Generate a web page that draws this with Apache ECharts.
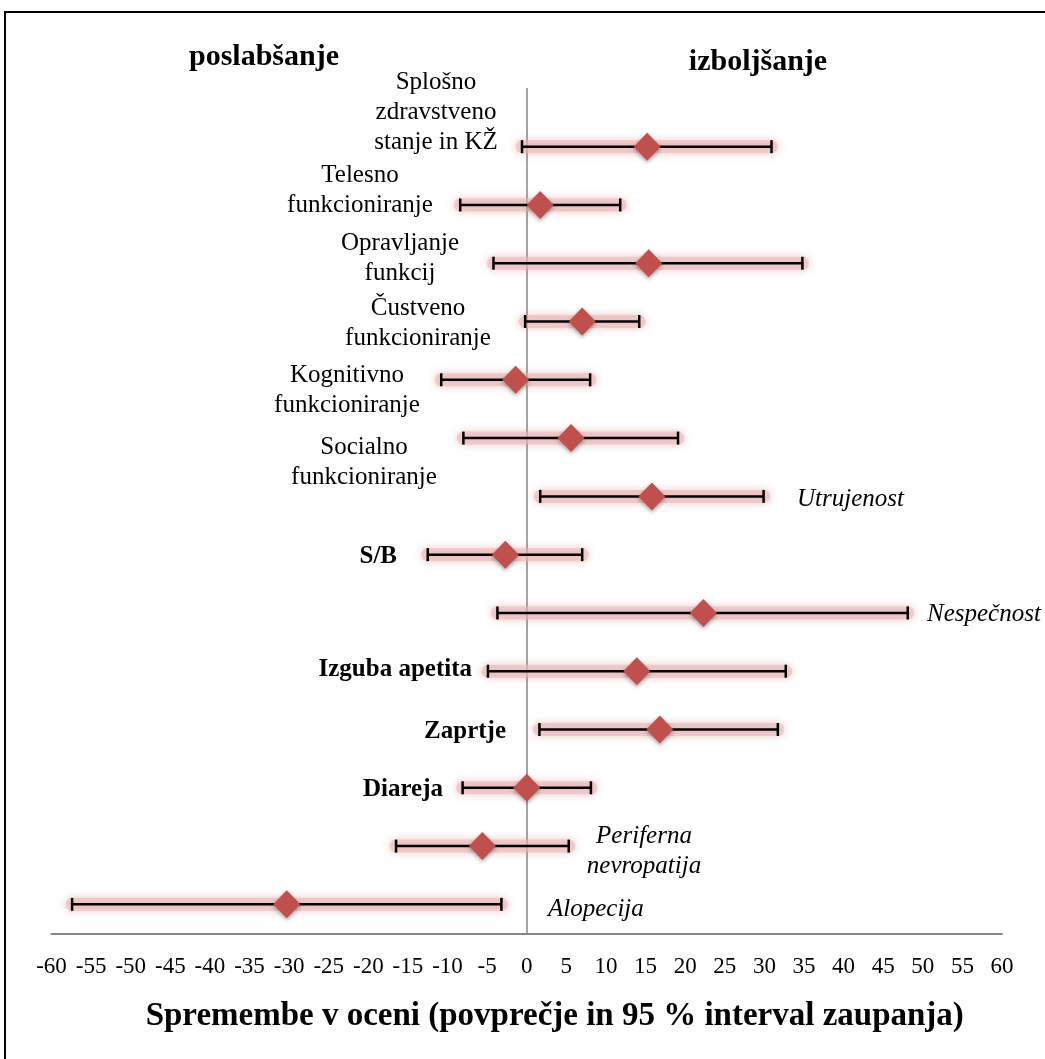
<!DOCTYPE html>
<html>
<head>
<meta charset="utf-8">
<script src="https://cdn.jsdelivr.net/npm/echarts@6/dist/echarts.min.js"></script>
<style>
html,body{margin:0;padding:0;background:#fff;}
#chart{width:1045px;height:1059px;}
</style>
</head>
<body>
<div id="chart"></div>
<script>
// ---- data ----
const categories = [
  'Splošno\nzdravstveno\nstanje in KŽ',
  'Telesno\nfunkcioniranje',
  'Opravljanje\nfunkcij',
  'Čustveno\nfunkcioniranje',
  'Kognitivno\nfunkcioniranje',
  'Socialno\nfunkcioniranje',
  'Utrujenost',
  'S/B',
  'Nespečnost',
  'Izguba apetita',
  'Zaprtje',
  'Diareja',
  'Periferna\nnevropatija',
  'Alopecija'
];
const meanValues = [15.2, 1.7, 15.4, 7.0, -1.4, 5.6, 15.8, -2.7, 22.3, 13.9, 16.8, 0.0, -5.6, -30.3];
const lowerCI    = [-0.6, -8.4, -4.2, -0.2, -10.8, -8.0, 1.7, -12.5, -3.7, -4.9, 1.6, -8.1, -16.5, -57.4];
const upperCI    = [30.9, 11.8, 34.8, 14.2, 8.0, 19.1, 29.9, 7.0, 48.1, 32.7, 31.7, 8.1, 5.3, -3.2];
const labelKind  = ['normal','normal','normal','normal','normal','normal','italic','bold','italic','bold','bold','bold','italic','italic'];
const xMin = -60, xMax = 60, xStep = 5;
const xAxisTitle = 'Spremembe v oceni (povprečje in 95 % interval zaupanja)';
const leftHeader = 'poslabšanje';
const rightHeader = 'izboljšanje';

// ---- label layout (pixel x anchor, alignment, vertical offset from row) ----
const labelLayout = [
  [436,'center',-34],[360,'center',-15],[400,'center',-5],[418,'center',2],
  [347,'center',11],[364,'center',24],[797,'left',3],[397,'right',2],
  [927,'left',1],[472,'right',-2],[506,'right',2],[443,'right',2],
  [644,'center',5],[548,'left',5]
];

const FONT = '"Liberation Serif","Times New Roman",serif';
const rowIdx = categories.map((c, i) => i + 1);
const barData = categories.map((c, i) => [lowerCI[i], upperCI[i], rowIdx[i]]);
const meanData = categories.map((c, i) => [meanValues[i], rowIdx[i]]);

const chart = echarts.init(document.getElementById('chart'), null, {renderer: 'canvas'});

const option = {
  backgroundColor: '#fff',
  animation: false,
  grid: {left: 51.5, right: 43, top: 88.4, bottom: 125.5, containLabel: false},
  xAxis: {
    type: 'value', min: xMin, max: xMax, interval: xStep,
    axisLine: {onZero: false, lineStyle: {color: '#878787', width: 2}},
    axisTick: {show: false},
    splitLine: {show: false},
    axisLabel: {color: '#000', fontFamily: FONT, fontSize: 23, margin: 22},
    name: xAxisTitle, nameLocation: 'middle', nameGap: 66,
    nameTextStyle: {color: '#000', fontFamily: FONT, fontSize: 33, fontWeight: 'bold', padding: [0, 0, 0, 56]}
  },
  yAxis: {
    type: 'value', min: 0, max: 14.5, inverse: true,
    axisLine: {show: true, onZero: true, lineStyle: {color: '#878787', width: 1.5}},
    axisTick: {show: false}, axisLabel: {show: false}, splitLine: {show: false}
  },
  series: [
    {
      type: 'custom',
      data: barData,
      encode: {x: [0, 1], y: 2},
      renderItem: function (params, api) {
        const lo = api.coord([api.value(0), api.value(2)]);
        const hi = api.coord([api.value(1), api.value(2)]);
        const y = lo[1];
        const capH = 6.5;
        return {
          type: 'group',
          children: [
            {
              type: 'line',
              shape: {x1: lo[0], y1: y, x2: hi[0], y2: y},
              style: {stroke: 'rgba(236,185,185,0.6)', lineWidth: 13, lineCap: 'round',
                      shadowBlur: 9, shadowColor: 'rgba(205,105,105,0.6)'}
            },
            {
              type: 'line',
              shape: {x1: lo[0], y1: y, x2: hi[0], y2: y},
              style: {stroke: '#000', lineWidth: 2.5}
            },
            {
              type: 'line',
              shape: {x1: lo[0], y1: y - capH, x2: lo[0], y2: y + capH},
              style: {stroke: '#000', lineWidth: 2.5}
            },
            {
              type: 'line',
              shape: {x1: hi[0], y1: y - capH, x2: hi[0], y2: y + capH},
              style: {stroke: '#000', lineWidth: 2.5}
            }
          ]
        };
      },
      z: 2
    },
    {
      type: 'scatter',
      data: meanData,
      symbol: 'diamond',
      symbolSize: [27, 28],
      itemStyle: {color: '#C0504D', opacity: 1, shadowBlur: 4, shadowColor: 'rgba(0,0,0,0.35)', shadowOffsetY: 2},
      z: 3
    }
  ]
};
chart.setOption(option);

// text labels and headers
const graphics = [
  {type: 'rect', shape: {x: 5, y: 12, width: 1100, height: 1100}, style: {fill: 'none', stroke: '#000', lineWidth: 2}, silent: true, z: 10},
  {type: 'text', x: 264, y: 57, style: {text: leftHeader, align: 'center', verticalAlign: 'middle', font: 'bold 30px ' + FONT, fill: '#000'}},
  {type: 'text', x: 758, y: 62, style: {text: rightHeader, align: 'center', verticalAlign: 'middle', font: 'bold 30px ' + FONT, fill: '#000'}}
];
categories.forEach((c, i) => {
  const py = chart.convertToPixel({gridIndex: 0}, [0, rowIdx[i]])[1];
  const L = labelLayout[i];
  const k = labelKind[i];
  const font = (k === 'bold' ? 'bold ' : k === 'italic' ? 'italic ' : '') + '25px ' + FONT;
  graphics.push({
    type: 'text', x: L[0], y: py + L[2],
    style: {text: c, align: L[1], verticalAlign: 'middle', font: font, lineHeight: 30, fill: '#000'}
  });
});
chart.setOption({graphic: graphics});
</script>
</body>
</html>
